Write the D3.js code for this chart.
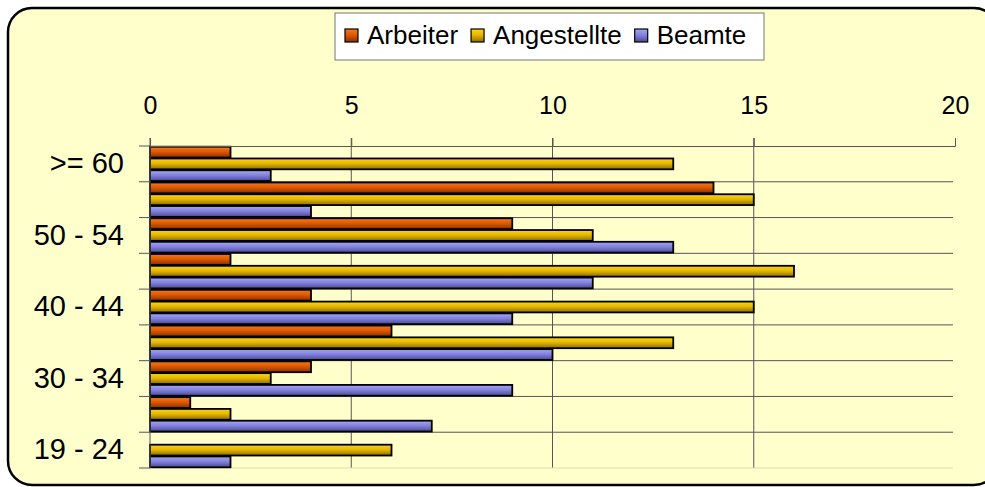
<!DOCTYPE html>
<html>
<head>
<meta charset="utf-8">
<script src="https://cdn.jsdelivr.net/npm/d3@7"></script>
<style>
  body { margin: 0; background: #fff; }
  svg { display: block; font-family: "Liberation Sans", Arial, sans-serif; }
</style>
</head>
<body>
<script>
// age groups, top to bottom
const categories = [">= 60", "55 - 59", "50 - 54", "45 - 49", "40 - 44", "35 - 39", "30 - 34", "25 - 29", "19 - 24"];
const series = ["Arbeiter", "Angestellte", "Beamte"];
const arbeiter = [2, 14, 9, 2, 4, 6, 4, 1, 0];
const angestellte = [13, 15, 11, 16, 15, 13, 3, 2, 6];
const beamte = [3, 4, 13, 11, 9, 10, 9, 7, 2];
const xTicks = [0, 5, 10, 15, 20];

const colors = {
  Arbeiter: ["#f47a22", "#e05a00", "#8a3000"],
  Angestellte: ["#f8d420", "#e8b800", "#8a6e00"],
  Beamte: ["#a4a4f4", "#8484e0", "#4a4a96"]
};

const width = 985, height = 487;
const margin = {top: 146, right: 30, bottom: 19, left: 150};

const rows = categories.map((c, i) => ({
  cat: c,
  Arbeiter: arbeiter[i],
  Angestellte: angestellte[i],
  Beamte: beamte[i]
}));

const svg = d3.select("body").append("svg")
  .attr("width", width)
  .attr("height", height);

const defs = svg.append("defs");
series.forEach((s, i) => {
  const g = defs.append("linearGradient")
    .attr("id", "grad" + i)
    .attr("x1", 0).attr("y1", 0).attr("x2", 0).attr("y2", 1);
  g.append("stop").attr("offset", "0%").attr("stop-color", colors[s][0]);
  g.append("stop").attr("offset", "45%").attr("stop-color", colors[s][1]);
  g.append("stop").attr("offset", "100%").attr("stop-color", colors[s][2]);
});

// frame
svg.append("rect")
  .attr("x", 8).attr("y", 8)
  .attr("width", 990).attr("height", 477)
  .attr("rx", 24).attr("ry", 24)
  .attr("fill", "#ffffcc")
  .attr("stroke", "#000")
  .attr("stroke-width", 2.5);

const x = d3.scaleLinear()
  .domain([0, 20])
  .range([margin.left, width - margin.right]);

const y = d3.scaleBand()
  .domain(categories)
  .range([margin.top, height - margin.bottom]);

const ySub = d3.scaleBand()
  .domain(series)
  .range([0, y.bandwidth()])
  .paddingInner(0.08)
  .paddingOuter(0.06);

// gridlines
svg.append("g")
  .selectAll("line.v")
  .data(xTicks.slice(1, -1))
  .join("line")
  .attr("x1", d => x(d)).attr("x2", d => x(d))
  .attr("y1", margin.top - 8).attr("y2", height - margin.bottom)
  .attr("stroke", "#555").attr("stroke-width", 1);

const bounds = categories.map(c => y(c)).concat([y.range()[1]]);
svg.append("g")
  .selectAll("line")
  .data(bounds.slice(1))
  .join("line")
  .attr("x1", margin.left).attr("x2", x(20) - 2)
  .attr("y1", d => d).attr("y2", d => d)
  .attr("stroke", (d, i) => i === bounds.length - 2 ? "#e0dcb0" : "#555")
  .attr("stroke-width", 1);

// bars
const groups = svg.append("g")
  .selectAll("g")
  .data(rows)
  .join("g")
  .attr("transform", d => `translate(0,${y(d.cat)})`);

groups.selectAll("rect")
  .data(d => series.map((s, i) => ({s, i, v: d[s]})).filter(e => e.v > 0))
  .join("rect")
  .attr("x", x(0))
  .attr("y", d => ySub(d.s))
  .attr("width", d => x(d.v) - x(0))
  .attr("height", ySub.bandwidth())
  .attr("fill", d => `url(#grad${d.i})`)
  .attr("stroke", "#000")
  .attr("stroke-width", 1.8);

// x axis on top
const xAxis = svg.append("g")
  .attr("transform", `translate(0,${margin.top})`)
  .call(d3.axisTop(x).tickValues(xTicks).tickSize(8).tickPadding(24));
xAxis.select(".domain").attr("stroke", "#555");
xAxis.selectAll(".tick line").attr("stroke", "#555");
xAxis.selectAll("text")
  .attr("font-size", 25)
  .attr("font-family", "Liberation Sans, Arial, sans-serif")
  .attr("fill", "#000");

// y axis on the left, ticks at band boundaries
const yAxis = svg.append("g")
  .attr("transform", `translate(${margin.left},0)`)
  .call(d3.axisLeft(y).tickSize(0).tickPadding(26)
    .tickFormat((d, i) => i % 2 === 0 ? d : ""));
yAxis.select(".domain").remove();
yAxis.selectAll("text")
  .attr("font-size", 29)
  .attr("font-family", "Liberation Sans, Arial, sans-serif")
  .attr("fill", "#000");

svg.append("line")
  .attr("x1", margin.left).attr("x2", margin.left)
  .attr("y1", margin.top - 8).attr("y2", height - margin.bottom)
  .attr("stroke", "#555");
svg.append("g")
  .selectAll("line")
  .data(bounds)
  .join("line")
  .attr("x1", margin.left - 11).attr("x2", margin.left)
  .attr("y1", d => d).attr("y2", d => d)
  .attr("stroke", "#555");

// legend
const legend = svg.append("g");
legend.append("rect")
  .attr("x", 335).attr("y", 13)
  .attr("width", 429).attr("height", 47)
  .attr("fill", "#fff")
  .attr("stroke", "#777")
  .attr("stroke-width", 1);

let lx = 345;
series.forEach((s, i) => {
  legend.append("rect")
    .attr("x", lx).attr("y", 29)
    .attr("width", 13).attr("height", 13)
    .attr("fill", `url(#grad${i})`)
    .attr("stroke", "#000")
    .attr("stroke-width", 1.2);
  const t = legend.append("text")
    .attr("x", lx + 22).attr("y", 44)
    .attr("font-size", 26)
    .text(s);
  lx += 22 + t.node().getComputedTextLength() + 13;
});
</script>
</body>
</html>
